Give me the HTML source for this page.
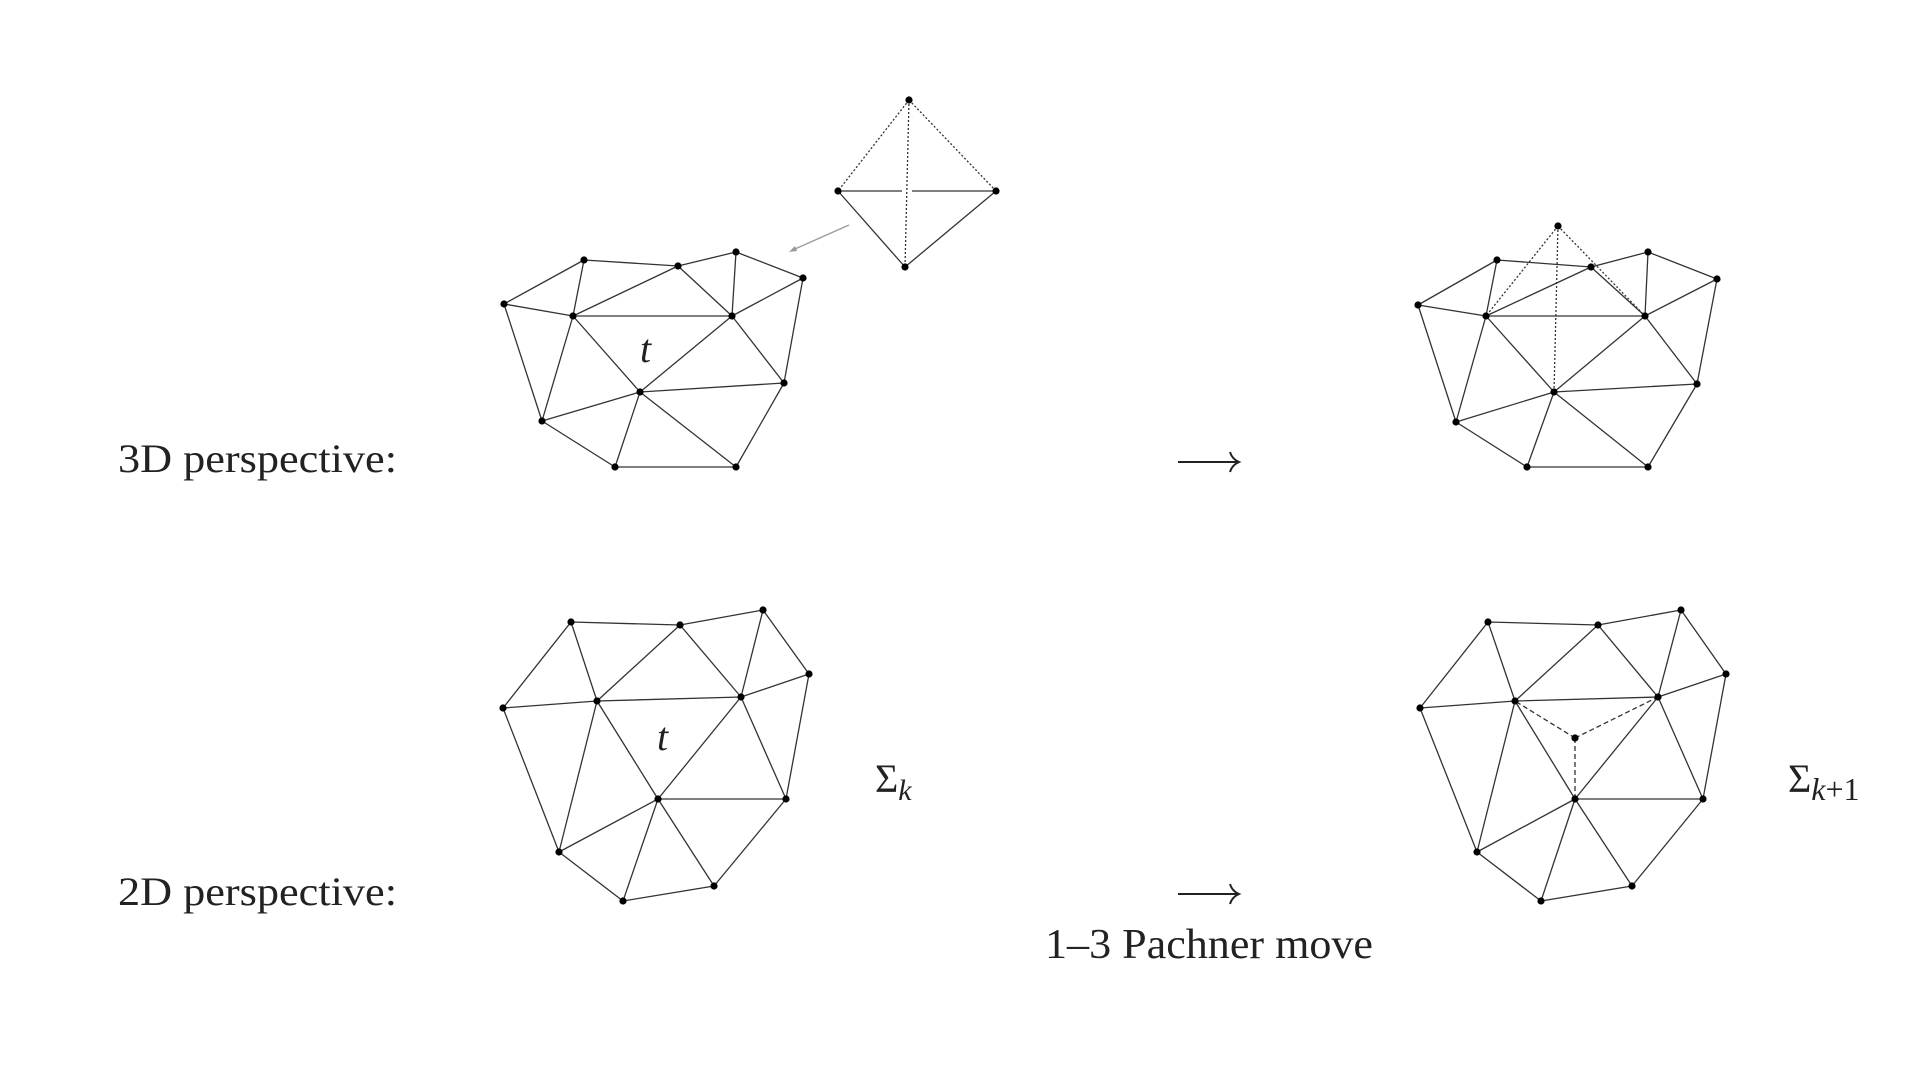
<!DOCTYPE html>
<html><head><meta charset="utf-8"><style>html,body{margin:0;padding:0;background:#fff}svg{display:block}</style></head>
<body>
<svg width="1920" height="1067" viewBox="0 0 1920 1067" xmlns="http://www.w3.org/2000/svg">
<g stroke="#333" stroke-width="1.3" fill="none">
<!-- 3D left mesh -->
<path d="M504,304L584,260M504,304L573,316M504,304L542,421M584,260L678,266M584,260L573,316M678,266L736,252M678,266L573,316M678,266L732,316M736,252L732,316M736,252L803,278M803,278L732,316M803,278L784,383M573,316L732,316M573,316L640,392M573,316L542,421M732,316L640,392M732,316L784,383M784,383L640,392M784,383L736,467M640,392L542,421M640,392L615,467M640,392L736,467M542,421L615,467M615,467L736,467"/>
<!-- tetra -->
<path d="M838,191L905,267M996,191L905,267M838,191L902,191M912,191L996,191"/>
<path d="M909,100L838,191M909,100L996,191M909,100L905,267" stroke-dasharray="2,2"/>
<path d="M849,225L795,249" stroke="#999"/>
<!-- 3D right mesh -->
<path d="M1418,305L1497,260M1418,305L1486,316M1418,305L1456,422M1497,260L1591,267M1497,260L1486,316M1591,267L1648,252M1591,267L1486,316M1591,267L1645,316M1648,252L1645,316M1648,252L1717,279M1717,279L1645,316M1717,279L1697,384M1486,316L1645,316M1486,316L1554,392M1486,316L1456,422M1645,316L1554,392M1645,316L1697,384M1697,384L1554,392M1697,384L1648,467M1554,392L1456,422M1554,392L1527,467M1554,392L1648,467M1456,422L1527,467M1527,467L1648,467"/>
<path d="M1558,226L1486,316M1558,226L1554,392M1558,226L1645,316" stroke-dasharray="2,2"/>
<!-- 2D left -->
<path d="M503,708L571,622M503,708L597,701M503,708L559,852M571,622L680,625M571,622L597,701M680,625L763,610M680,625L597,701M680,625L741,697M763,610L741,697M763,610L809,674M809,674L741,697M809,674L786,799M597,701L741,697M597,701L658,799M597,701L559,852M741,697L658,799M741,697L786,799M786,799L658,799M786,799L714,886M658,799L559,852M658,799L623,901M658,799L714,886M559,852L623,901M623,901L714,886"/>
<!-- 2D right -->
<path d="M1420,708L1488,622M1420,708L1515,701M1420,708L1477,852M1488,622L1598,625M1488,622L1515,701M1598,625L1681,610M1598,625L1515,701M1598,625L1658,697M1681,610L1658,697M1681,610L1726,674M1726,674L1658,697M1726,674L1703,799M1515,701L1658,697M1515,701L1575,799M1515,701L1477,852M1658,697L1575,799M1658,697L1703,799M1703,799L1575,799M1703,799L1632,886M1575,799L1477,852M1575,799L1541,901M1575,799L1632,886M1477,852L1541,901M1541,901L1632,886"/>
<path d="M1575,738L1515,701M1575,738L1658,697M1575,738L1575,799" stroke-dasharray="5,3"/>
</g>
<path d="M789,252l8,-1l-2,-5z" fill="#999"/>
<g fill="#000">
<circle cx="504" cy="304" r="3.6"/><circle cx="584" cy="260" r="3.6"/><circle cx="678" cy="266" r="3.6"/><circle cx="736" cy="252" r="3.6"/><circle cx="803" cy="278" r="3.6"/><circle cx="573" cy="316" r="3.6"/><circle cx="732" cy="316" r="3.6"/><circle cx="784" cy="383" r="3.6"/><circle cx="640" cy="392" r="3.6"/><circle cx="542" cy="421" r="3.6"/><circle cx="615" cy="467" r="3.6"/><circle cx="736" cy="467" r="3.6"/>
<circle cx="909" cy="100" r="3.6"/><circle cx="838" cy="191" r="3.6"/><circle cx="996" cy="191" r="3.6"/><circle cx="905" cy="267" r="3.6"/>
<circle cx="1418" cy="305" r="3.6"/><circle cx="1497" cy="260" r="3.6"/><circle cx="1591" cy="267" r="3.6"/><circle cx="1648" cy="252" r="3.6"/><circle cx="1717" cy="279" r="3.6"/><circle cx="1486" cy="316" r="3.6"/><circle cx="1645" cy="316" r="3.6"/><circle cx="1697" cy="384" r="3.6"/><circle cx="1554" cy="392" r="3.6"/><circle cx="1456" cy="422" r="3.6"/><circle cx="1527" cy="467" r="3.6"/><circle cx="1648" cy="467" r="3.6"/><circle cx="1558" cy="226" r="3.6"/>
<circle cx="503" cy="708" r="3.6"/><circle cx="571" cy="622" r="3.6"/><circle cx="680" cy="625" r="3.6"/><circle cx="763" cy="610" r="3.6"/><circle cx="809" cy="674" r="3.6"/><circle cx="597" cy="701" r="3.6"/><circle cx="741" cy="697" r="3.6"/><circle cx="786" cy="799" r="3.6"/><circle cx="658" cy="799" r="3.6"/><circle cx="559" cy="852" r="3.6"/><circle cx="623" cy="901" r="3.6"/><circle cx="714" cy="886" r="3.6"/>
<circle cx="1420" cy="708" r="3.6"/><circle cx="1488" cy="622" r="3.6"/><circle cx="1598" cy="625" r="3.6"/><circle cx="1681" cy="610" r="3.6"/><circle cx="1726" cy="674" r="3.6"/><circle cx="1515" cy="701" r="3.6"/><circle cx="1658" cy="697" r="3.6"/><circle cx="1703" cy="799" r="3.6"/><circle cx="1575" cy="799" r="3.6"/><circle cx="1477" cy="852" r="3.6"/><circle cx="1541" cy="901" r="3.6"/><circle cx="1632" cy="886" r="3.6"/><circle cx="1575" cy="738" r="3.6"/>
</g>
<g stroke="#222" stroke-width="2" fill="none">
<path d="M1178,462H1238M1230,452Q1232,459 1239,462Q1232,465 1230,472"/>
<path d="M1178,894H1238M1230,884Q1232,891 1239,894Q1232,897 1230,904"/>
</g>
<g font-family="Liberation Serif, serif" fill="#222">
<text x="118" y="472" font-size="40" textLength="279" lengthAdjust="spacingAndGlyphs">3D perspective:</text>
<text x="118" y="905" font-size="40" textLength="279" lengthAdjust="spacingAndGlyphs">2D perspective:</text>
<text x="1045" y="958" font-size="42" textLength="328" lengthAdjust="spacingAndGlyphs">1–3 Pachner move</text>
<text x="640" y="362" font-size="40" font-style="italic">t</text>
<text x="657" y="750" font-size="40" font-style="italic">t</text>
<text x="875" y="792" font-size="40">Σ<tspan font-size="30" font-style="italic" dy="8">k</tspan></text>
<text x="1788" y="792" font-size="40">Σ<tspan font-size="32" dy="8"><tspan font-style="italic">k</tspan>+1</tspan></text>
</g>
</svg>
</body></html>
